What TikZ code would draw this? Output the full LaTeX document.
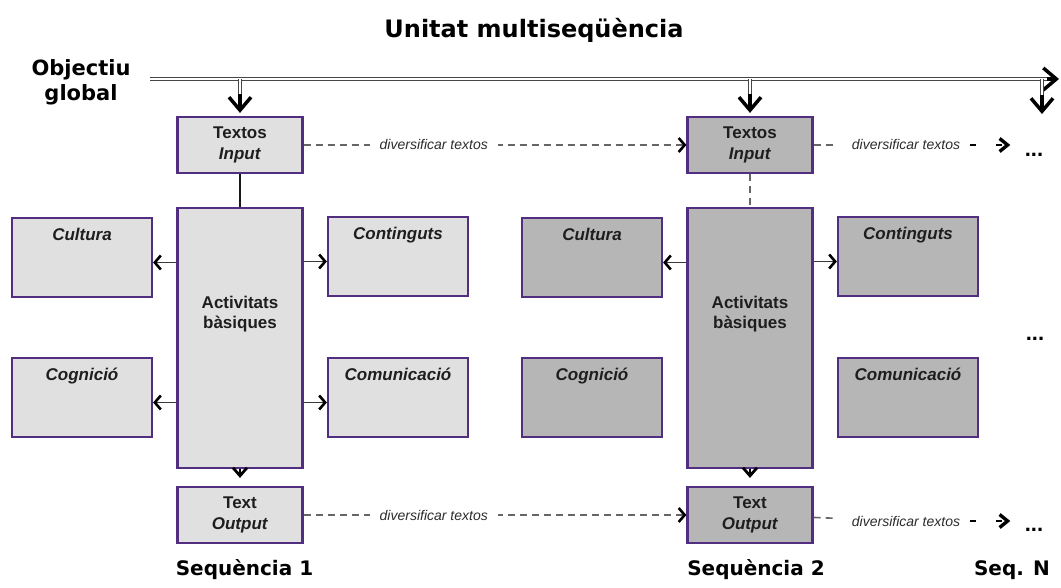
\documentclass[tikz,border=0pt]{standalone}
\usepackage{fontspec}
\setmainfont{Liberation Sans}
\newfontfamily\headFont{DejaVu Sans}
\usetikzlibrary{positioning}
\usetikzlibrary{calc}
\usetikzlibrary{arrows.meta}
\definecolor{boxBorder}{RGB}{82,46,128}
\definecolor{lightFill}{RGB}{224,224,224}
\definecolor{darkFill}{RGB}{182,182,182}
\definecolor{boxInk}{RGB}{30,30,30}
\newcommand*{\seqShift}{510}
\tikzset{
  seqBox/.style={% common look of all boxes
    draw=boxBorder,
    line width=2.2pt,
    inner sep=0pt,
    text=boxInk,
    font=\bfseries\fontsize{17}{21}\selectfont,
    align=center
  },
  ioBox/.style={seqBox, minimum width=125pt, minimum height=56pt},
  actBox/.style={seqBox, minimum width=125pt, minimum height=260pt},
  sideBox/.style={seqBox, minimum width=140pt, minimum height=79pt},
  sideText/.style={anchor=north, yshift=-8pt, text=boxInk,
    font=\bfseries\itshape\fontsize{17}{21}\selectfont},
  actText/.style={yshift=24pt, text=boxInk, align=center,
    font=\bfseries\fontsize{17}{20}\selectfont},
  headText/.style={text=black, font=\headFont\bfseries\fontsize{20}{25}\selectfont},
  goalLine/.style={draw=gray!55!black, line width=1.1pt, double=white, double distance=2.2pt},
  goalHead/.style={black, line width=3.5pt,
    -{Straight Barb[length=13pt, width=22pt, line width=3.5pt]}},
  sideArrow/.style={gray!45!black, line width=1.3pt,
    -{Straight Barb[length=6pt, width=14pt, line width=2.6pt, black]}},
  downArrow/.style={black, line width=2.4pt, shorten >=8pt,
    -{Straight Barb[length=8pt, width=14pt, line width=2.8pt]}},
  diversLine/.style={gray!80!black, line width=1.6pt, dash pattern=on 7pt off 5pt},
  diversArrow/.style={diversLine,
    -{Straight Barb[length=6pt, width=14pt, line width=2.6pt, black]}},
  tailArrow/.style={black, line width=2.2pt, dash pattern=on 6pt off 20pt, shorten >=11pt,
    -{Straight Barb[length=8pt, width=13pt, line width=3.4pt]}},
  diversLabel/.style={fill=white, inner xsep=10pt, text=gray!35!black,
    font=\itshape\fontsize{14}{16}\selectfont},
  dotsText/.style={anchor=base, text=black, font=\bfseries\fontsize{22}{22}\selectfont}
}
\begin{document}
\begin{tikzpicture}[x=1pt,y=-1pt]
    \useasboundingbox (0,0) rectangle (1061,588);
    % headings
    \node[headText, anchor=base, font=\headFont\bfseries\fontsize{24}{28}\selectfont]
        (title) at (534,38) {Unitat multiseqüència};
    \node[headText, align=center, font=\headFont\bfseries\fontsize{21}{25}\selectfont]
        (goalText) at (81,82) {Objectiu\\global};
    % the two sequences
    \foreach \s/\dx/\tone in {1/0/lightFill, 2/\seqShift/darkFill} {
        \node[ioBox, fill=\tone] (in\s) at (240+\dx,145) {Textos\\\textit{Input}};
        \node[actBox, fill=\tone, label={[actText]center:{Activitats\\bàsiques}}]
            (act\s) at (240+\dx,338) {};
        \node[ioBox, fill=\tone] (out\s) at (240+\dx,515) {Text\\\textit{Output}};
        \node[sideBox, fill=\tone, label={[sideText]north:Cultura}] (cul\s) at (82+\dx,257.5) {};
        \node[sideBox, fill=\tone, label={[sideText]north:Cognició}] (cog\s) at (82+\dx,397.5) {};
        \node[sideBox, fill=\tone, label={[sideText]north:Continguts}] (con\s) at (398+\dx,256.5) {};
        \node[sideBox, fill=\tone, label={[sideText]north:Comunicació}] (com\s) at (398+\dx,397.5) {};
        \draw[downArrow] (act\s) -- (out\s);
        \draw[sideArrow] ([yshift=-5pt]cul\s.east -| act\s.west) -- ([yshift=-5pt]cul\s.east);
        \draw[sideArrow] ([yshift=-5pt]con\s.west -| act\s.east) -- ([yshift=-5pt]con\s.west);
    }
    \node[headText, anchor=base] (seqA) at (244.5,575) {Sequència 1};
    \node[headText, anchor=base] (seqB) at (756,575) {Sequència 2};
    \node[headText, anchor=base] (seqC) at (1012,575) {Seq. N};
    % global objective line
    \coordinate (goalL) at (150,79);
    \coordinate (goalR) at (1059,79);
    \coordinate (seqN) at (1042,114);
    \draw[goalLine] (goalL) -- ([xshift=-8pt]goalR);
    \draw[goalHead] ([xshift=-12pt]goalR) -- (goalR);
    \foreach \n in {in1,in2} {
        \draw[goalLine] (\n.north |- goalL) -- ([yshift=19pt]\n.north);
        \draw[goalHead] ([yshift=22pt]\n.north) -- ([yshift=3pt]\n.north);
    }
    \draw[goalLine] (seqN |- goalL) -- ([yshift=16pt]seqN);
    \draw[goalHead] ([yshift=19pt]seqN) -- (seqN);
    % inside the sequences
    \draw[gray!20!black, line width=1.3pt] (in1) -- (act1);
    \draw[diversLine] (in2) -- (act2);
    \draw[sideArrow] ([yshift=-5pt]cog1.east -| act1.west) -- ([yshift=-5pt]cog1.east);
    \draw[sideArrow] ([yshift=-5pt]com1.west -| act1.east) -- ([yshift=-5pt]com1.west);
    % diversifying the texts
    \draw[diversArrow] (in1) -- node[diversLabel, pos=.34] (dvIn) {diversificar textos} (in2);
    \draw[diversArrow] (out1) -- node[diversLabel, pos=.34] (dvOut) {diversificar textos} (out2);
    \node[diversLabel] (tailIn) at (906,145) {diversificar textos};
    \node[diversLabel] (tailOut) at (906,521) {diversificar textos};
    \node[dotsText] (dotsIn) at (1034,157) {...};
    \node[dotsText] (dotsOut) at (1034,531) {...};
    \node[dotsText] (dotsMid) at (1035,341) {...};
    \draw[diversLine, shorten >=6pt] (in2) -- (tailIn);
    \draw[diversLine, shorten >=6pt] (out2) -- (tailOut);
    \draw[tailArrow] (tailIn) -- (dotsIn.west |- tailIn);
    \draw[tailArrow] (tailOut) -- (dotsOut.west |- tailOut);
\end{tikzpicture}
\end{document}
